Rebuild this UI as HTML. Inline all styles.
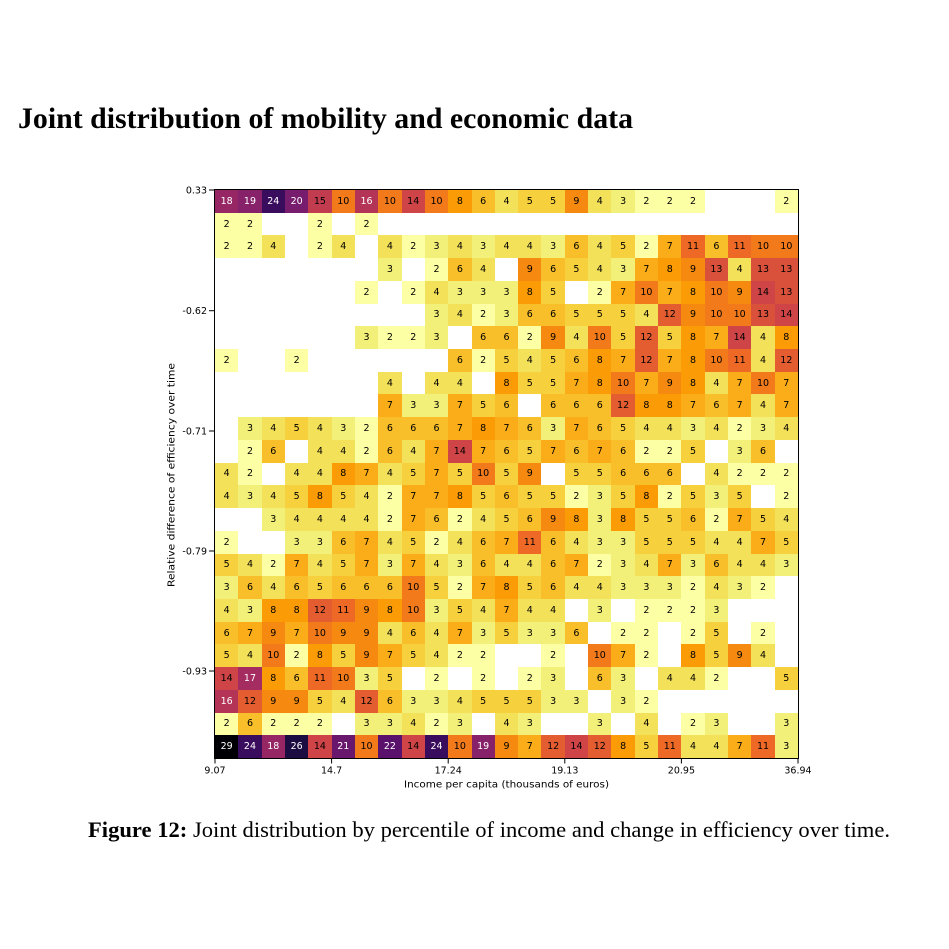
<!DOCTYPE html>
<html><head><meta charset="utf-8">
<style>
html,body{margin:0;padding:0;background:#fff;}
#wrap{position:relative;width:949px;height:949px;background:#fff;overflow:hidden;}
#g{position:absolute;left:215px;top:190px;width:583px;height:568px;display:grid;grid-template-columns:repeat(25,1fr);grid-template-rows:repeat(25,1fr);font-family:"DejaVu Sans","Liberation Sans",sans-serif;font-size:9.5px;color:#000;}
#g>b,#g>i{display:flex;align-items:center;justify-content:center;font-style:normal;font-weight:normal;}
.c2{background:#fcffa4}.c3{background:#f2f079}.c4{background:#f4e15a}.c5{background:#f7d13d}
.c6{background:#f8bf2b}.c7{background:#faad18}.c8{background:#fb9b06}.c9{background:#f68a10}
.c10{background:#f27a1b}.c11{background:#ed6925}.c12{background:#e35d30}.c13{background:#d9503b}
.c14{background:#cf4446}.c15{background:#c13c4f}
.c16{background:#b33457;color:#fff}.c17{background:#a52c60;color:#fff}.c18{background:#962764;color:#fff}
.c19{background:#872169;color:#fff}.c20{background:#781c6d;color:#fff}.c21{background:#69176c;color:#fff}
.c22{background:#59116c;color:#fff}.c24{background:#3a0c5d;color:#fff}.c26{background:#1b0c41;color:#fff}
.c29{background:#000004;color:#fff}
svg{position:absolute;left:0;top:0;}
</style></head><body><div id="wrap">
<div id="g">
<b class=c18>18</b><b class=c19>19</b><b class=c24>24</b><b class=c20>20</b><b class=c15>15</b><b class=c10>10</b><b class=c16>16</b><b class=c10>10</b><b class=c14>14</b><b class=c10>10</b><b class=c8>8</b><b class=c6>6</b><b class=c4>4</b><b class=c5>5</b><b class=c5>5</b><b class=c9>9</b><b class=c4>4</b><b class=c3>3</b><b class=c2>2</b><b class=c2>2</b><b class=c2>2</b><i></i><i></i><i></i><b class=c2>2</b>
<b class=c2>2</b><b class=c2>2</b><i></i><i></i><b class=c2>2</b><i></i><b class=c2>2</b><i></i><i></i><i></i><i></i><i></i><i></i><i></i><i></i><i></i><i></i><i></i><i></i><i></i><i></i><i></i><i></i><i></i><i></i>
<b class=c2>2</b><b class=c2>2</b><b class=c4>4</b><i></i><b class=c2>2</b><b class=c4>4</b><i></i><b class=c4>4</b><b class=c2>2</b><b class=c3>3</b><b class=c4>4</b><b class=c3>3</b><b class=c4>4</b><b class=c4>4</b><b class=c3>3</b><b class=c6>6</b><b class=c4>4</b><b class=c5>5</b><b class=c2>2</b><b class=c7>7</b><b class=c11>11</b><b class=c6>6</b><b class=c11>11</b><b class=c10>10</b><b class=c10>10</b>
<i></i><i></i><i></i><i></i><i></i><i></i><i></i><b class=c3>3</b><i></i><b class=c2>2</b><b class=c6>6</b><b class=c4>4</b><i></i><b class=c9>9</b><b class=c6>6</b><b class=c5>5</b><b class=c4>4</b><b class=c3>3</b><b class=c7>7</b><b class=c8>8</b><b class=c9>9</b><b class=c13>13</b><b class=c4>4</b><b class=c13>13</b><b class=c13>13</b>
<i></i><i></i><i></i><i></i><i></i><i></i><b class=c2>2</b><i></i><b class=c2>2</b><b class=c4>4</b><b class=c3>3</b><b class=c3>3</b><b class=c3>3</b><b class=c8>8</b><b class=c5>5</b><i></i><b class=c2>2</b><b class=c7>7</b><b class=c10>10</b><b class=c7>7</b><b class=c8>8</b><b class=c10>10</b><b class=c9>9</b><b class=c14>14</b><b class=c13>13</b>
<i></i><i></i><i></i><i></i><i></i><i></i><i></i><i></i><i></i><b class=c3>3</b><b class=c4>4</b><b class=c2>2</b><b class=c3>3</b><b class=c6>6</b><b class=c6>6</b><b class=c5>5</b><b class=c5>5</b><b class=c5>5</b><b class=c4>4</b><b class=c12>12</b><b class=c9>9</b><b class=c10>10</b><b class=c10>10</b><b class=c13>13</b><b class=c14>14</b>
<i></i><i></i><i></i><i></i><i></i><i></i><b class=c3>3</b><b class=c2>2</b><b class=c2>2</b><b class=c3>3</b><i></i><b class=c6>6</b><b class=c6>6</b><b class=c2>2</b><b class=c9>9</b><b class=c4>4</b><b class=c10>10</b><b class=c5>5</b><b class=c12>12</b><b class=c5>5</b><b class=c8>8</b><b class=c7>7</b><b class=c14>14</b><b class=c4>4</b><b class=c8>8</b>
<b class=c2>2</b><i></i><i></i><b class=c2>2</b><i></i><i></i><i></i><i></i><i></i><i></i><b class=c6>6</b><b class=c2>2</b><b class=c5>5</b><b class=c4>4</b><b class=c5>5</b><b class=c6>6</b><b class=c8>8</b><b class=c7>7</b><b class=c12>12</b><b class=c7>7</b><b class=c8>8</b><b class=c10>10</b><b class=c11>11</b><b class=c4>4</b><b class=c12>12</b>
<i></i><i></i><i></i><i></i><i></i><i></i><i></i><b class=c4>4</b><i></i><b class=c4>4</b><b class=c4>4</b><i></i><b class=c8>8</b><b class=c5>5</b><b class=c5>5</b><b class=c7>7</b><b class=c8>8</b><b class=c10>10</b><b class=c7>7</b><b class=c9>9</b><b class=c8>8</b><b class=c4>4</b><b class=c7>7</b><b class=c10>10</b><b class=c7>7</b>
<i></i><i></i><i></i><i></i><i></i><i></i><i></i><b class=c7>7</b><b class=c3>3</b><b class=c3>3</b><b class=c7>7</b><b class=c5>5</b><b class=c6>6</b><i></i><b class=c6>6</b><b class=c6>6</b><b class=c6>6</b><b class=c12>12</b><b class=c8>8</b><b class=c8>8</b><b class=c7>7</b><b class=c6>6</b><b class=c7>7</b><b class=c4>4</b><b class=c7>7</b>
<i></i><b class=c3>3</b><b class=c4>4</b><b class=c5>5</b><b class=c4>4</b><b class=c3>3</b><b class=c2>2</b><b class=c6>6</b><b class=c6>6</b><b class=c6>6</b><b class=c7>7</b><b class=c8>8</b><b class=c7>7</b><b class=c6>6</b><b class=c3>3</b><b class=c7>7</b><b class=c6>6</b><b class=c5>5</b><b class=c4>4</b><b class=c4>4</b><b class=c3>3</b><b class=c4>4</b><b class=c2>2</b><b class=c3>3</b><b class=c4>4</b>
<i></i><b class=c2>2</b><b class=c6>6</b><i></i><b class=c4>4</b><b class=c4>4</b><b class=c2>2</b><b class=c6>6</b><b class=c4>4</b><b class=c7>7</b><b class=c14>14</b><b class=c7>7</b><b class=c6>6</b><b class=c5>5</b><b class=c7>7</b><b class=c6>6</b><b class=c7>7</b><b class=c6>6</b><b class=c2>2</b><b class=c2>2</b><b class=c5>5</b><i></i><b class=c3>3</b><b class=c6>6</b><i></i>
<b class=c4>4</b><b class=c2>2</b><i></i><b class=c4>4</b><b class=c4>4</b><b class=c8>8</b><b class=c7>7</b><b class=c4>4</b><b class=c5>5</b><b class=c7>7</b><b class=c5>5</b><b class=c10>10</b><b class=c5>5</b><b class=c9>9</b><i></i><b class=c5>5</b><b class=c5>5</b><b class=c6>6</b><b class=c6>6</b><b class=c6>6</b><i></i><b class=c4>4</b><b class=c2>2</b><b class=c2>2</b><b class=c2>2</b>
<b class=c4>4</b><b class=c3>3</b><b class=c4>4</b><b class=c5>5</b><b class=c8>8</b><b class=c5>5</b><b class=c4>4</b><b class=c2>2</b><b class=c7>7</b><b class=c7>7</b><b class=c8>8</b><b class=c5>5</b><b class=c6>6</b><b class=c5>5</b><b class=c5>5</b><b class=c2>2</b><b class=c3>3</b><b class=c5>5</b><b class=c8>8</b><b class=c2>2</b><b class=c5>5</b><b class=c3>3</b><b class=c5>5</b><i></i><b class=c2>2</b>
<i></i><i></i><b class=c3>3</b><b class=c4>4</b><b class=c4>4</b><b class=c4>4</b><b class=c4>4</b><b class=c2>2</b><b class=c7>7</b><b class=c6>6</b><b class=c2>2</b><b class=c4>4</b><b class=c5>5</b><b class=c6>6</b><b class=c9>9</b><b class=c8>8</b><b class=c3>3</b><b class=c8>8</b><b class=c5>5</b><b class=c5>5</b><b class=c6>6</b><b class=c2>2</b><b class=c7>7</b><b class=c5>5</b><b class=c4>4</b>
<b class=c2>2</b><i></i><i></i><b class=c3>3</b><b class=c3>3</b><b class=c6>6</b><b class=c7>7</b><b class=c4>4</b><b class=c5>5</b><b class=c2>2</b><b class=c4>4</b><b class=c6>6</b><b class=c7>7</b><b class=c11>11</b><b class=c6>6</b><b class=c4>4</b><b class=c3>3</b><b class=c3>3</b><b class=c5>5</b><b class=c5>5</b><b class=c5>5</b><b class=c4>4</b><b class=c4>4</b><b class=c7>7</b><b class=c5>5</b>
<b class=c5>5</b><b class=c4>4</b><b class=c2>2</b><b class=c7>7</b><b class=c4>4</b><b class=c5>5</b><b class=c7>7</b><b class=c3>3</b><b class=c7>7</b><b class=c4>4</b><b class=c3>3</b><b class=c6>6</b><b class=c4>4</b><b class=c4>4</b><b class=c6>6</b><b class=c7>7</b><b class=c2>2</b><b class=c3>3</b><b class=c4>4</b><b class=c7>7</b><b class=c3>3</b><b class=c6>6</b><b class=c4>4</b><b class=c4>4</b><b class=c3>3</b>
<b class=c3>3</b><b class=c6>6</b><b class=c4>4</b><b class=c6>6</b><b class=c5>5</b><b class=c6>6</b><b class=c6>6</b><b class=c6>6</b><b class=c10>10</b><b class=c5>5</b><b class=c2>2</b><b class=c7>7</b><b class=c8>8</b><b class=c5>5</b><b class=c6>6</b><b class=c4>4</b><b class=c4>4</b><b class=c3>3</b><b class=c3>3</b><b class=c3>3</b><b class=c2>2</b><b class=c4>4</b><b class=c3>3</b><b class=c2>2</b><i></i>
<b class=c4>4</b><b class=c3>3</b><b class=c8>8</b><b class=c8>8</b><b class=c12>12</b><b class=c11>11</b><b class=c9>9</b><b class=c8>8</b><b class=c10>10</b><b class=c3>3</b><b class=c5>5</b><b class=c4>4</b><b class=c7>7</b><b class=c4>4</b><b class=c4>4</b><i></i><b class=c3>3</b><i></i><b class=c2>2</b><b class=c2>2</b><b class=c2>2</b><b class=c3>3</b><i></i><i></i><i></i>
<b class=c6>6</b><b class=c7>7</b><b class=c9>9</b><b class=c7>7</b><b class=c10>10</b><b class=c9>9</b><b class=c9>9</b><b class=c4>4</b><b class=c6>6</b><b class=c4>4</b><b class=c7>7</b><b class=c3>3</b><b class=c5>5</b><b class=c3>3</b><b class=c3>3</b><b class=c6>6</b><i></i><b class=c2>2</b><b class=c2>2</b><i></i><b class=c2>2</b><b class=c5>5</b><i></i><b class=c2>2</b><i></i>
<b class=c5>5</b><b class=c4>4</b><b class=c10>10</b><b class=c2>2</b><b class=c8>8</b><b class=c5>5</b><b class=c9>9</b><b class=c7>7</b><b class=c5>5</b><b class=c4>4</b><b class=c2>2</b><b class=c2>2</b><i></i><i></i><b class=c2>2</b><i></i><b class=c10>10</b><b class=c7>7</b><b class=c2>2</b><i></i><b class=c8>8</b><b class=c5>5</b><b class=c9>9</b><b class=c4>4</b><i></i>
<b class=c14>14</b><b class=c17>17</b><b class=c8>8</b><b class=c6>6</b><b class=c11>11</b><b class=c10>10</b><b class=c3>3</b><b class=c5>5</b><i></i><b class=c2>2</b><i></i><b class=c2>2</b><i></i><b class=c2>2</b><b class=c3>3</b><i></i><b class=c6>6</b><b class=c3>3</b><i></i><b class=c4>4</b><b class=c4>4</b><b class=c2>2</b><i></i><i></i><b class=c5>5</b>
<b class=c16>16</b><b class=c12>12</b><b class=c9>9</b><b class=c9>9</b><b class=c5>5</b><b class=c4>4</b><b class=c12>12</b><b class=c6>6</b><b class=c3>3</b><b class=c3>3</b><b class=c4>4</b><b class=c5>5</b><b class=c5>5</b><b class=c5>5</b><b class=c3>3</b><b class=c3>3</b><i></i><b class=c3>3</b><b class=c2>2</b><i></i><i></i><i></i><i></i><i></i><i></i>
<b class=c2>2</b><b class=c6>6</b><b class=c2>2</b><b class=c2>2</b><b class=c2>2</b><i></i><b class=c3>3</b><b class=c3>3</b><b class=c4>4</b><b class=c2>2</b><b class=c3>3</b><i></i><b class=c4>4</b><b class=c3>3</b><i></i><i></i><b class=c3>3</b><i></i><b class=c4>4</b><i></i><b class=c2>2</b><b class=c3>3</b><i></i><i></i><b class=c3>3</b>
<b class=c29>29</b><b class=c24>24</b><b class=c18>18</b><b class=c26>26</b><b class=c14>14</b><b class=c21>21</b><b class=c10>10</b><b class=c22>22</b><b class=c14>14</b><b class=c24>24</b><b class=c10>10</b><b class=c19>19</b><b class=c9>9</b><b class=c7>7</b><b class=c12>12</b><b class=c14>14</b><b class=c12>12</b><b class=c8>8</b><b class=c5>5</b><b class=c11>11</b><b class=c4>4</b><b class=c4>4</b><b class=c7>7</b><b class=c11>11</b><b class=c3>3</b>
</div>
<svg width="949" height="949" viewBox="0 0 949 949" xmlns="http://www.w3.org/2000/svg">
<text x="18" y="128" font-family="'Liberation Serif', serif" font-weight="bold" font-size="30" textLength="615" lengthAdjust="spacingAndGlyphs">Joint distribution of mobility and economic data</text>
<rect x="214.5" y="189.5" width="584" height="569" fill="none" stroke="#000" stroke-width="1"/>
<g stroke="#000" stroke-width="1">
<line x1="215" y1="758.5" x2="215" y2="763.5"/>
<line x1="331.6" y1="758.5" x2="331.6" y2="763.5"/>
<line x1="448.2" y1="758.5" x2="448.2" y2="763.5"/>
<line x1="564.8" y1="758.5" x2="564.8" y2="763.5"/>
<line x1="681.4" y1="758.5" x2="681.4" y2="763.5"/>
<line x1="798" y1="758.5" x2="798" y2="763.5"/>
<line x1="209" y1="190" x2="214.5" y2="190"/>
<line x1="209" y1="310.7" x2="214.5" y2="310.7"/>
<line x1="209" y1="431" x2="214.5" y2="431"/>
<line x1="209" y1="551" x2="214.5" y2="551"/>
<line x1="209" y1="671" x2="214.5" y2="671"/>
</g>
<g font-family="'DejaVu Sans', sans-serif" font-size="9.5" fill="#000">
<g text-anchor="middle">
<text x="215" y="773.5">9.07</text>
<text x="331.6" y="773.5">14.7</text>
<text x="448.2" y="773.5">17.24</text>
<text x="564.8" y="773.5">19.13</text>
<text x="681.4" y="773.5">20.95</text>
<text x="798" y="773.5">36.94</text>
<text x="506.5" y="787.5" textLength="205" lengthAdjust="spacingAndGlyphs">Income per capita (thousands of euros)</text>
<text transform="translate(174.5,475) rotate(-90)" textLength="224" lengthAdjust="spacingAndGlyphs">Relative difference of efficiency over time</text>
</g>
<g text-anchor="end">
<text x="207" y="193.3">0.33</text>
<text x="207" y="314">-0.62</text>
<text x="207" y="434.3">-0.71</text>
<text x="207" y="554.3">-0.79</text>
<text x="207" y="674.3">-0.93</text>
</g>
</g>
<text x="88" y="837" font-family="'Liberation Serif', serif" font-size="22.5" textLength="802" lengthAdjust="spacingAndGlyphs"><tspan font-weight="bold">Figure 12:</tspan> Joint distribution by percentile of income and change in efficiency over time.</text>
</svg>
</div></body></html>
